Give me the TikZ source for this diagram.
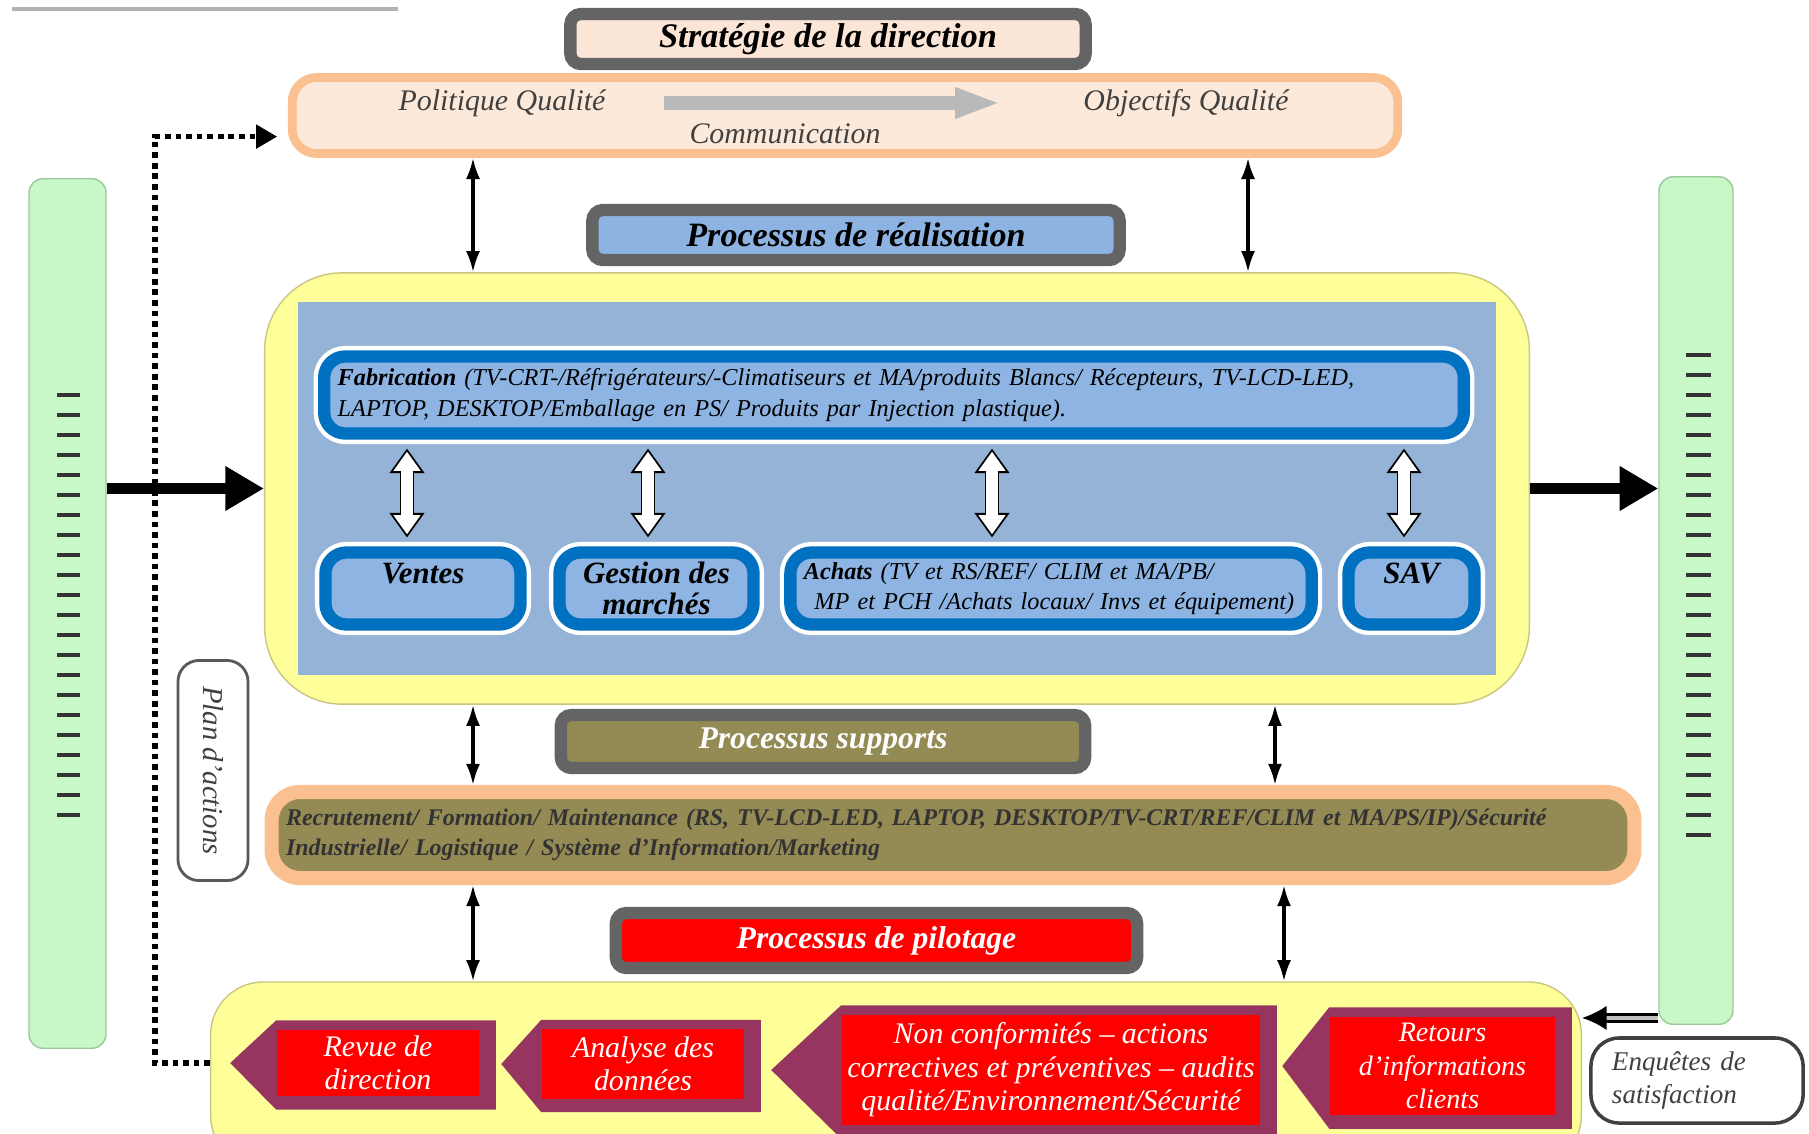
\documentclass[tikz,border=0pt]{standalone}
\usepackage{fontspec}
\setmainfont{Liberation Serif}
\usetikzlibrary{arrows.meta,calc}

\definecolor{greenbar}{RGB}{200,247,200}
\definecolor{yellowbg}{RGB}{255,255,153}
\definecolor{bluebg}{RGB}{149,179,215}
\definecolor{fabblue}{RGB}{0,112,192}
\definecolor{bluelight}{RGB}{141,180,226}
\definecolor{realblue}{RGB}{141,179,226}
\definecolor{olive}{RGB}{148,138,84}
\definecolor{orangeedge}{RGB}{250,192,144}
\definecolor{peach}{RGB}{253,233,217}
\definecolor{stratfill}{RGB}{251,229,214}
\definecolor{grayedge}{RGB}{100,100,100}
\definecolor{plum}{RGB}{150,54,96}

\pgfdeclarelayer{back}
\pgfsetlayers{back,main}

\begin{document}
\begin{tikzpicture}[x=0.01cm, y=-0.01cm,
    framebox/.style={draw=grayedge, line width=3.5pt, rounded corners=3pt, inner sep=0pt,
        font=\bfseries\itshape\fontsize{9}{10}\selectfont},
    bluebox/.style={preaction={draw=white, line width=6pt}, draw=fabblue, line width=3.5pt,
        fill=bluelight, rounded corners=6pt, inner sep=0pt, font=\itshape\fontsize{6.9}{9}\selectfont},
    smallbox/.style={bluebox, align=center, font=\bfseries\itshape\fontsize{8.8}{8.6}\selectfont},
    redbox/.style={fill=red, text=white, inner sep=0pt, align=center, font=\itshape\fontsize{8.5}{9.5}\selectfont},
    politext/.style={text=black!75, font=\itshape\fontsize{8.5}{10}\selectfont},
    sidebar/.style={fill=greenbar, draw=green!30!gray!60, line width=0.4pt, rounded corners=4pt},
    barglyph/.style={black!80, line width=0.9pt},
    link/.style={line width=0.9pt, {Latex[length=6pt,width=4pt]}-{Latex[length=6pt,width=4pt]}},
    bigarrow/.style={line width=3pt, -{Triangle[length=11pt,width=12pt]}},
    whiteout/.style={line width=4.2pt, {Triangle[length=7pt,width=9.5pt]}-{Triangle[length=7pt,width=9.5pt]},
        shorten <=2.5pt, shorten >=2.5pt},
    whitein/.style={white, line width=3.2pt, {Triangle[length=5.5pt,width=7.4pt]}-{Triangle[length=5.5pt,width=7.4pt]},
        shorten <=3.4pt, shorten >=3.4pt},
    comarrow/.style={gray!55, line width=4pt, -{Triangle[length=13pt,width=8pt]}, shorten <=13pt, shorten >=20pt},
    dotline/.style={line width=1.6pt, dash pattern=on 1.6pt off 1.4pt, -{Triangle[length=6pt,width=6.5pt]}, shorten >=3pt},
    dblarrow/.style={double=gray!50, double distance=1.2pt, line width=0.7pt, -{Latex[length=7pt,width=7pt]}}
]
\useasboundingbox (0,0) rectangle (1809,1133);

    % Gray line top left
    \draw[gray!60, line width=1pt] (12,9) -- (398,9);

    % Direction
    \node[framebox, fill=stratfill, minimum width=5.15cm, minimum height=0.5cm, font=\bfseries\itshape\fontsize{9.8}{10}\selectfont] (strat) at (828,39) {Stratégie de la direction};
    \node[draw=orangeedge, line width=2.5pt, fill=peach, rounded corners=7pt, minimum width=11.05cm, minimum height=0.76cm] (pol) at (845,115.5) {};
    \node[politext] (polq) at (502,103) {Politique Qualité};
    \node[politext] (objq) at (1186,103) {Objectifs Qualité};
    \node[politext] (comm) at (785,134) {Communication};
    \draw[comarrow] (polq) -- (objq);

    % Side bars
    \node[sidebar, minimum width=0.77cm, minimum height=8.69cm] (lbar) at (67.5,613.5) {};
    \node[sidebar, minimum width=0.74cm, minimum height=8.47cm] (rbar) at (1696,600.5) {};
    \foreach \y in {395,415,...,815} {
        \draw[barglyph] (57,\y) -- (80,\y);
    }
    \foreach \y in {355,375,...,835} {
        \draw[barglyph] (1686,\y) -- (1711,\y);
    }

    % Realisation
    \node[framebox, fill=realblue, minimum width=5.27cm, minimum height=0.5cm, font=\bfseries\itshape\fontsize{9.7}{10}\selectfont] (realt) at (856,235) {Processus de réalisation};
    \node[fill=yellowbg, draw=yellow!60!black!60, rounded corners=22pt, minimum width=12.64cm, minimum height=4.31cm] (realbg) at (897,488.5) {};
    \node[fill=bluebg, minimum width=11.98cm, minimum height=3.73cm] (realin) at (897,488.5) {};

    \node[bluebox, minimum width=11.39cm, minimum height=0.77cm, text width=11.12cm, inner xsep=0.135cm, align=left] (fab) at (894,395)
        {\textbf{Fabrication} (TV-CRT-/Réfrigérateurs/-Climatiseurs et MA/produits Blancs/ Récepteurs, TV-LCD-LED,\\LAPTOP, DESKTOP/Emballage en PS/ Produits par Injection plastique).};
    \node[smallbox, minimum width=1.95cm, minimum height=0.72cm] (ventes) at (423,588.5) {Ventes\\\mbox{}};
    \node[smallbox, minimum width=1.94cm, minimum height=0.72cm] (gestion) at (656.5,588.5) {Gestion des\\marchés};
    \node[bluebox, minimum width=5.21cm, minimum height=0.72cm, text width=4.94cm, inner xsep=0.135cm, align=left,
        font=\itshape\fontsize{6.9}{8.6}\selectfont] (achats) at (1051,588.5)
        {\textbf{Achats} (TV et RS/REF/ CLIM et MA/PB/\\\hspace*{3pt}MP et PCH /Achats locaux/ Invs et équipement)};
    \node[smallbox, minimum width=1.26cm, minimum height=0.72cm] (sav) at (1411.5,588.5) {SAV\\\mbox{}};

    \foreach \x/\b in {407/ventes, 648/gestion, 992/achats, 1404/sav} {
        \coordinate (wa) at (\x,0);
        \draw[whiteout] (fab.south -| wa) -- (\b.north -| wa);
        \draw[whitein] (fab.south -| wa) -- (\b.north -| wa);
    }

    % In and out
    \draw[bigarrow] (lbar.east |- realbg.west) -- (realbg.west);
    \draw[bigarrow] (realbg.east) -- (realbg.east -| rbar.west);

    % Supports
    \node[framebox, fill=olive, text=white, minimum width=5.24cm, minimum height=0.53cm] (supt) at (823,741.5) {Processus supports};
    \node[draw=orangeedge, line width=4pt, fill=olive, rounded corners=8pt, minimum width=13.62cm, minimum height=0.86cm, text width=13.33cm,
        inner xsep=0.145cm, align=left, text=black!80, font=\bfseries\itshape\fontsize{6.8}{8.5}\selectfont] (sup) at (953,835)
        {Recrutement/ Formation/ Maintenance (RS, TV-LCD-LED, LAPTOP, DESKTOP/TV-CRT/REF/CLIM et MA/PS/IP)/Sécurité\\Industrielle/ Logistique / Système d'Information/Marketing};

    % Pilotage
    \node[framebox, fill=red, text=white, minimum width=5.21cm, minimum height=0.55cm] (pilt) at (876.5,940.5) {Processus de pilotage};
    \begin{pgfonlayer}{back}
        \node[fill=yellowbg, draw=yellow!60!black!60, rounded corners=15pt, minimum width=13.7cm, minimum height=1.86cm] (pilbg) at (896,1075) {};
    \end{pgfonlayer}

    \node[redbox, minimum width=2.02cm, minimum height=0.66cm] (revue) at (378,1063) {Revue de\\direction};
    \node[redbox, minimum width=2.02cm, minimum height=0.69cm] (analyse) at (643,1064) {Analyse des\\données};
    \node[redbox, minimum width=4.18cm, minimum height=1.1cm] (noncf) at (1051,1070) {Non conformités – actions\\correctives et préventives – audits\\qualité/Environnement/Sécurité};
    \node[redbox, minimum width=2.25cm, minimum height=0.98cm, font=\itshape\fontsize{8}{9.5}\selectfont] (retours) at (1442.5,1066) {Retours\\d'informations\\clients};
    \begin{pgfonlayer}{back}
        \foreach \n/\t in {revue/46, analyse/40, noncf/70, retours/47} {
            \fill[plum] ($(\n.north west)+(0,-9)$) -- ($(\n.north east)+(16,-9)$) -- ($(\n.south east)+(16,13)$)
                -- ($(\n.south west)+(0,13)$) -- ($(\n.west)+(-\t,0)$) -- cycle;
        }
    \end{pgfonlayer}

    % Vertical links
    \coordinate (xl) at (473,0);
    \coordinate (xr1) at (1248,0);
    \coordinate (xr2) at (1275,0);
    \coordinate (xr3) at (1284,0);
    \draw[link] (pol.south -| xl) -- (realbg.north -| xl);
    \draw[link] (pol.south -| xr1) -- (realbg.north -| xr1);
    \draw[link] (realbg.south -| xl) -- (sup.north -| xl);
    \draw[link] (realbg.south -| xr2) -- (sup.north -| xr2);
    \draw[link] (sup.south -| xl) -- (pilbg.north -| xl);
    \draw[link] (sup.south -| xr3) -- (pilbg.north -| xr3);

    % Plan d'actions loop
    \node[draw=gray!70!black, line width=0.8pt, fill=white, rounded corners=6pt, rotate=-90, minimum width=2.2cm, minimum height=0.7cm,
        text=black!75, font=\itshape\fontsize{8.2}{10}\selectfont] (plan) at (213,770.5) {Plan d'actions};
    \draw[dotline] (pilbg.west |- revue.west) -- ++(-55,0) |- ([yshift=-6pt]pol.west);

    % Customer feedback
    \node[draw=black!75, line width=1pt, fill=white, rounded corners=8pt, minimum width=2.12cm, minimum height=0.85cm, text width=1.7cm,
        inner xsep=0.21cm, align=left, text=black!75, font=\itshape\fontsize{7.7}{9.5}\selectfont] (enq) at (1697,1080.5) {Enquêtes de\\satisfaction};
    \coordinate (fb) at ([yshift=2pt]rbar.south west);
    \draw[dblarrow] (fb) -- (fb -| pilbg.east);

\end{tikzpicture}
\end{document}
